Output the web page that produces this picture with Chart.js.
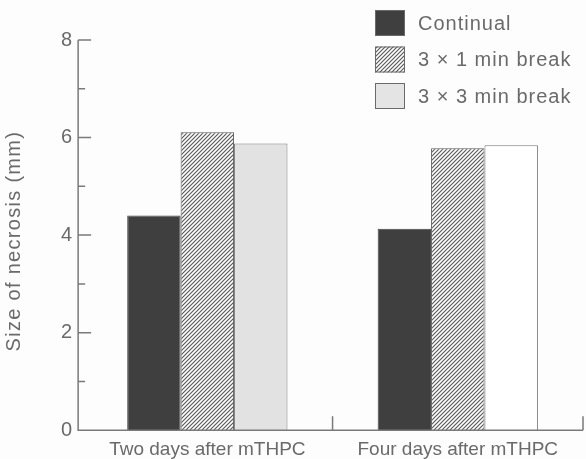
<!DOCTYPE html>
<html>
<head>
<meta charset="utf-8">
<script src="https://cdn.jsdelivr.net/npm/chart.js@4/dist/chart.umd.min.js"></script>
<style>
  html, body { margin: 0; padding: 0; background: #fdfdfd; }
  #wrap { width: 586px; height: 459px; position: relative; }
</style>
</head>
<body>
<div id="wrap"><canvas id="necrosisChart" width="586" height="459"></canvas></div>
<script>
// Values (mm)
const groups = ["Two days after mTHPC", "Four days after mTHPC"];
const seriesNames = ["Continual", "3 \u00d7 1 min break", "3 \u00d7 3 min break"];
const continual = [4.40, 4.13];
const oneMinBreak = [6.11, 5.78];
const threeMinBreak = [5.88, 5.84];
const yTicks = [0, 2, 4, 6, 8];
const yTitle = 'Size of necrosis (mm)';

const fontFamily = '"Liberation Sans", Arial, sans-serif';
const textGrey = '#6a6a6a';
const lineGrey = '#7a7a7a';
// the printed y axis sits a little left of where the first group starts
const axisGap = 4;

// Diagonal hatching like the printed figure
function makeHatch() {
    const size = 4;
    const c = document.createElement('canvas');
    c.width = size;
    c.height = size;
    const g = c.getContext('2d');
    g.fillStyle = '#ffffff';
    g.fillRect(0, 0, size, size);
    g.strokeStyle = '#5a5a5a';
    g.lineWidth = 1.2;
    g.beginPath();
    g.moveTo(-1, size + 1);
    g.lineTo(size + 1, -1);
    g.moveTo(-1, 1);
    g.lineTo(1, -1);
    g.moveTo(size - 1, size + 1);
    g.lineTo(size + 1, size - 1);
    g.stroke();
    return g.createPattern(c, 'repeat');
}

// Axis lines with inward tick marks, drawn from the scales
const axisPlugin = {
    id: 'inwardAxes',
    afterDatasetsDraw(chart) {
        const ctx = chart.ctx;
        const area = chart.chartArea;
        const x = chart.scales.x;
        const y = chart.scales.y;
        const axisX = area.left - axisGap;
        const yTop = y.getPixelForValue(yTicks[yTicks.length - 1]);
        const yZero = y.getPixelForValue(0);
        ctx.save();
        ctx.strokeStyle = lineGrey;
        ctx.lineWidth = 1.5;
        ctx.beginPath();
        ctx.moveTo(axisX, yTop);
        ctx.lineTo(axisX, yZero);
        ctx.lineTo(area.right, yZero);
        // major and minor ticks on y
        for (let v = 1; v <= yTicks[yTicks.length - 1]; v++) {
            const py = y.getPixelForValue(v);
            const len = (v % 2 === 0) ? 13 : 7;
            ctx.moveTo(axisX, py);
            ctx.lineTo(axisX + len, py);
        }
        // ticks between categories and at the end of the x axis
        for (let i = 0; i < groups.length; i++) {
            let px;
            if (i < groups.length - 1) {
                px = (x.getPixelForTick(i) + x.getPixelForTick(i + 1)) / 2;
            } else {
                px = area.right;
            }
            ctx.moveTo(px, yZero);
            ctx.lineTo(px, yZero - 14);
        }
        ctx.stroke();

        // y axis title, a bit spaced out like the print
        ctx.translate(14, (area.top + area.bottom) / 2 + 6);
        ctx.rotate(-Math.PI / 2);
        ctx.font = '20px ' + fontFamily;
        ctx.letterSpacing = '1.3px';
        ctx.fillStyle = textGrey;
        ctx.textAlign = 'center';
        ctx.textBaseline = 'middle';
        ctx.fillText(yTitle, 0, 0);
        ctx.restore();
    }
};

// Legend as a stacked list in the top right corner
const legendPlugin = {
    id: 'stackedLegend',
    afterDraw(chart) {
        const ctx = chart.ctx;
        const boxW = 30, boxH = 26, rowH = 36.5;
        const left = chart.width - 211;
        const top = 10;
        ctx.save();
        ctx.font = '20px ' + fontFamily;
        ctx.letterSpacing = '1px';
        ctx.textBaseline = 'middle';
        chart.data.datasets.forEach((ds, i) => {
            const by = top + i * rowH;
            ctx.fillStyle = ds.legendFill;
            ctx.fillRect(left, by, boxW, boxH);
            ctx.strokeStyle = '#6a6a6a';
            ctx.lineWidth = 1;
            ctx.strokeRect(left + 0.5, by + 0.5, boxW - 1, boxH - 1);
            ctx.fillStyle = textGrey;
            ctx.fillText(ds.label, left + 43, by + boxH / 2 + 1);
        });
        ctx.restore();
    }
};

window.onload = function() {
    const ctx = document.getElementById('necrosisChart');
    const hatch = makeHatch();

    Chart.defaults.font.family = fontFamily;
    Chart.defaults.color = textGrey;

    new Chart(ctx, {
        type: 'bar',
        data: {
            labels: groups,
            datasets: [
                {
                    label: seriesNames[0],
                    data: continual,
                    backgroundColor: '#3f3f3f',
                    borderColor: '#444444',
                    borderWidth: 1,
                    legendFill: '#3f3f3f'
                },
                {
                    label: seriesNames[1],
                    data: oneMinBreak,
                    backgroundColor: hatch,
                    borderColor: '#5a5a5a',
                    borderWidth: 1,
                    legendFill: hatch
                },
                {
                    label: seriesNames[2],
                    data: threeMinBreak,
                    backgroundColor: ['#e2e2e2', '#ffffff'],
                    borderColor: '#7a7a7a',
                    borderWidth: 1,
                    legendFill: '#e4e4e4'
                }
            ]
        },
        options: {
            responsive: false,
            animation: false,
            layout: {
                padding: { top: 40, right: 3, bottom: -10, left: 51 }
            },
            datasets: {
                bar: {
                    categoryPercentage: 0.64,
                    barPercentage: 1.0
                }
            },
            plugins: {
                legend: { display: false },
                tooltip: { enabled: false }
            },
            scales: {
                x: {
                    grid: { display: false, drawTicks: false },
                    border: { display: false },
                    ticks: {
                        padding: 8,
                        font: { size: 19 },
                        color: textGrey
                    }
                },
                y: {
                    min: 0,
                    max: 8,
                    grid: { display: false, drawTicks: false },
                    border: { display: false },
                    afterBuildTicks: (axis) => {
                        axis.ticks = yTicks.map(v => ({ value: v }));
                    },
                    ticks: {
                        padding: 6 + axisGap,
                        font: { size: 20 },
                        color: textGrey
                    }
                }
            }
        },
        plugins: [axisPlugin, legendPlugin]
    });
};
</script>
</body>
</html>
